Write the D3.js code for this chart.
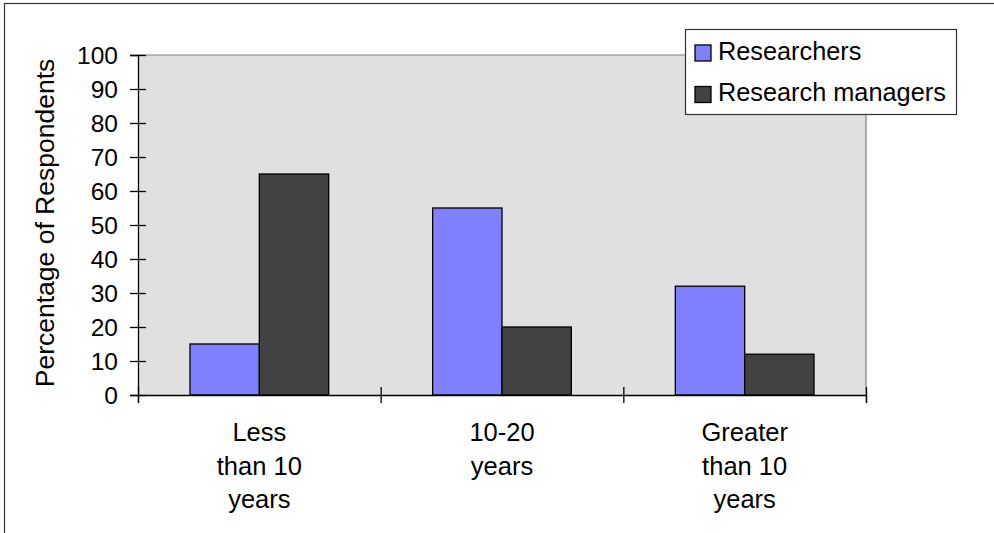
<!DOCTYPE html>
<html>
<head>
<meta charset="utf-8">
<script src="https://cdn.jsdelivr.net/npm/d3@7/dist/d3.min.js"></script>
<style>
  html, body { margin: 0; padding: 0; background: #fff; }
  svg { display: block; }
  text { font-family: "Liberation Sans", Arial, sans-serif; fill: #000; }
</style>
</head>
<body>
<svg id="chart" width="994" height="533"></svg>
<script>
// Experience groups (category labels split across lines)
const categories = ["Less than 10 years", "10-20 years", "Greater than 10 years"];
const categoryLines = [["Less", "than 10", "years"], ["10-20", "years"], ["Greater", "than 10", "years"]];
const seriesNames = ["Researchers", "Research managers"];
const researchers = [15, 55, 32];
const researchManagers = [65, 20, 12];
const yTicks = [0, 10, 20, 30, 40, 50, 60, 70, 80, 90, 100];
const seriesColors = ["#8080ff", "#424242"];

const svg = d3.select("#chart");
const plot = { left: 138, right: 866, top: 55, bottom: 395 };

// Outer chart frame
svg.append("rect")
  .attr("x", 4.5).attr("y", 3.5)
  .attr("width", 1100).attr("height", 700)
  .attr("fill", "#fff").attr("stroke", "#333").attr("stroke-width", 1.2);

const y = d3.scaleLinear().domain([0, 100]).range([plot.bottom, plot.top]);
const x0 = d3.scaleBand().domain(categories).range([plot.left, plot.right]).paddingInner(0).paddingOuter(0);
const x1 = d3.scaleBand().domain(seriesNames).range([0, x0.bandwidth()]).paddingInner(0).paddingOuter(0.75);

// Plot area background with grey top/right border
svg.append("rect")
  .attr("x", plot.left).attr("y", plot.top)
  .attr("width", plot.right - plot.left).attr("height", plot.bottom - plot.top)
  .attr("fill", "#e0e0e0");
svg.append("path")
  .attr("d", `M${plot.left},${plot.top}H${plot.right}V${plot.bottom}`)
  .attr("fill", "none").attr("stroke", "#808080").attr("stroke-width", 1.2);

// Bars
const data = categories.map((c, i) => ({ cat: c, values: [researchers[i], researchManagers[i]] }));
const groups = svg.append("g").selectAll("g").data(data).join("g")
  .attr("transform", d => `translate(${x0(d.cat)},0)`);
groups.selectAll("rect")
  .data(d => d.values.map((v, j) => ({ name: seriesNames[j], value: v, color: seriesColors[j] })))
  .join("rect")
  .attr("x", d => x1(d.name))
  .attr("y", d => y(d.value))
  .attr("width", x1.bandwidth())
  .attr("height", d => y(0) - y(d.value))
  .attr("fill", d => d.color)
  .attr("stroke", "#000").attr("stroke-width", 1.3);

// Y axis with crossing tick marks
const yAxis = svg.append("g")
  .attr("transform", `translate(${plot.left},0)`)
  .call(d3.axisLeft(y).tickValues(yTicks).tickSize(8).tickPadding(0));
yAxis.select(".domain").attr("stroke", "#000").attr("stroke-width", 1.3);
yAxis.selectAll(".tick line").attr("x1", -8).attr("x2", 8).attr("stroke", "#000").attr("stroke-width", 1.3);
yAxis.selectAll(".tick text")
  .attr("x", -20).attr("dy", "0.36em")
  .style("font-size", "24.5px").style("font-family", "'Liberation Sans', Arial, sans-serif").attr("fill", "#000");

// X axis: ticks at category boundaries
const xb = d3.scaleLinear().domain([0, categories.length]).range([plot.left, plot.right]);
const xAxis = svg.append("g")
  .attr("transform", `translate(0,${plot.bottom})`)
  .call(d3.axisBottom(xb).ticks(categories.length).tickFormat("").tickSize(8));
xAxis.select(".domain").attr("stroke", "#000").attr("stroke-width", 1.3);
xAxis.selectAll(".tick line").attr("y1", -8).attr("y2", 8).attr("stroke", "#000").attr("stroke-width", 1.3);

// Category labels
const catLabels = svg.append("g").selectAll("text").data(categories).join("text")
  .attr("x", d => x0(d) + x0.bandwidth() / 2)
  .attr("y", 441)
  .attr("text-anchor", "middle")
  .style("font-size", "25.5px");
catLabels.each(function(d, i) {
  d3.select(this).selectAll("tspan").data(categoryLines[i]).join("tspan")
    .attr("x", x0(d) + x0.bandwidth() / 2)
    .attr("dy", (t, k) => k === 0 ? 0 : 33.5)
    .text(t => t);
});

// Y axis title
svg.append("text")
  .attr("transform", `translate(54,${(plot.top + plot.bottom) / 2 - 2}) rotate(-90)`)
  .attr("text-anchor", "middle")
  .style("font-size", "26.5px")
  .text("Percentage of Respondents");

// Legend
const legend = svg.append("g");
legend.append("rect")
  .attr("x", 685.5).attr("y", 29.5).attr("width", 271).attr("height", 85)
  .attr("fill", "#fff").attr("stroke", "#333").attr("stroke-width", 1.2);
const items = legend.selectAll("g.item").data(seriesNames).join("g").attr("class", "item")
  .attr("transform", (d, i) => `translate(0,${i * 41.5})`);
items.append("rect")
  .attr("x", 695).attr("y", 45).attr("width", 16).attr("height", 16)
  .attr("fill", (d, i) => seriesColors[i]).attr("stroke", "#000").attr("stroke-width", 1.3);
items.append("text")
  .attr("x", 718).attr("y", 59.5)
  .style("font-size", "25.3px")
  .text(d => d);
</script>
</body>
</html>
